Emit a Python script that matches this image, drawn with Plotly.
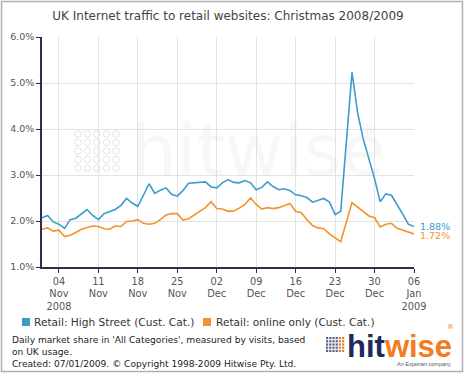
import plotly.graph_objects as go
import pandas as pd

# ---- data ----
all_days = pd.date_range("2008-11-01", "2009-01-06", freq="D")
dates = [d.strftime("%Y-%m-%d") for d in all_days if d.strftime("%m-%d") != "12-25"]

high_street = [2.07, 2.12, 1.98, 1.93, 1.84, 2.03, 2.06, 2.16, 2.25, 2.12,
               2.03, 2.16, 2.21, 2.25, 2.34, 2.49, 2.39, 2.32, 2.56, 2.81,
               2.60, 2.67, 2.72, 2.58, 2.54, 2.66, 2.82, 2.83, 2.83, 2.85,
               2.74, 2.72, 2.83, 2.90, 2.84, 2.83, 2.88, 2.83, 2.68, 2.73,
               2.85, 2.75, 2.68, 2.70, 2.66, 2.57, 2.55, 2.51, 2.41, 2.45,
               2.49, 2.41, 2.14, 2.21,
               5.23, 4.35, 3.78, 3.35, 2.92, 2.42, 2.59, 2.56, 2.37, 2.15,
               1.93, 1.88]

online_only = [1.82, 1.85, 1.78, 1.80, 1.66, 1.69, 1.75, 1.82, 1.86, 1.89,
               1.88, 1.83, 1.82, 1.89, 1.88, 1.99, 2.00, 2.03, 1.95, 1.93,
               1.95, 2.03, 2.13, 2.16, 2.16, 2.02, 2.05, 2.13, 2.22, 2.29,
               2.42, 2.27, 2.26, 2.21, 2.22, 2.28, 2.36, 2.50, 2.36, 2.26,
               2.29, 2.27, 2.29, 2.33, 2.38, 2.21, 2.18, 2.03, 1.90, 1.85,
               1.83, 1.72, 1.63, 1.55,
               2.40, 2.30, 2.19, 2.11, 2.07, 1.87, 1.93, 1.95, 1.84, 1.80,
               1.76, 1.72]

series_names = ["Retail: High Street (Cust. Cat.)", "Retail: online only (Cust. Cat.)"]

tick_dates = ["2008-11-04", "2008-11-11", "2008-11-18", "2008-11-25", "2008-12-02",
              "2008-12-09", "2008-12-16", "2008-12-23", "2008-12-30", "2009-01-06"]
tick_labels = ["04<br>Nov<br>2008", "11<br>Nov", "18<br>Nov", "25<br>Nov", "02<br>Dec",
               "09<br>Dec", "16<br>Dec", "23<br>Dec", "30<br>Dec", "06<br>Jan<br>2009"]

BLUE = "#3c9ccb"
ORANGE = "#f5922a"
NAVY = "#1d2a5b"
FONT = "DejaVu Sans"

# pixel helpers (plot area: x 42..414, y 37..267)
L, R, T, B = 42, 414, 37, 267
def px(x):
    return (x - L) / (R - L)
def py(y):
    return (B - y) / (B - T)

fig = go.Figure()
fig.add_trace(go.Scatter(x=dates, y=high_street, mode="lines", name=series_names[0],
                         line=dict(color=BLUE, width=1.6), showlegend=False))
fig.add_trace(go.Scatter(x=dates, y=online_only, mode="lines", name=series_names[1],
                         line=dict(color=ORANGE, width=1.6), showlegend=False))

shapes = []
# outer border
shapes.append(dict(type="rect", xref="paper", yref="paper",
                   x0=px(1.5), x1=px(462.5), y0=py(1.5), y1=py(371.5),
                   line=dict(color="#b0b0b0", width=1.5), fillcolor="rgba(0,0,0,0)", layer="below"))
# watermark dots (5x5 circles)
for i in range(5):
    for j in range(5):
        cx = 78 + i * 9.5
        cy = 134 + j * 8.5
        shapes.append(dict(type="circle", xref="paper", yref="paper",
                           x0=px(cx - 3.3), x1=px(cx + 3.3), y0=py(cy + 3.3), y1=py(cy - 3.3),
                           line=dict(color="#e4e4e4", width=1), layer="below"))
# logo icon (grid of small squares)
for i in range(6):
    for j in range(5):
        sx = 326 + i * 3.2
        sy = 337 + j * 3.2
        col = "#5a6285" if i < 4 else "#d9823a"
        shapes.append(dict(type="rect", xref="paper", yref="paper",
                           x0=px(sx), x1=px(sx + 2.2), y0=py(sy + 2.2), y1=py(sy),
                           line=dict(width=0), fillcolor=col))
# legend squares
for sx, col in [(22, BLUE), (203, ORANGE)]:
    shapes.append(dict(type="rect", xref="paper", yref="paper",
                       x0=px(sx), x1=px(sx + 8), y0=py(326), y1=py(318),
                       line=dict(width=0), fillcolor=col))

annotations = [
    dict(text="hitwise", xref="paper", yref="paper", x=px(258), y=py(150),
         showarrow=False, font=dict(family=FONT, size=72, color="rgba(200,200,200,0.15)")),
    dict(text="®", xref="paper", yref="paper", x=px(378), y=py(130),
         showarrow=False, font=dict(family=FONT, size=14, color="rgba(200,200,200,0.3)")),
    dict(text="1.88%", xref="paper", yref="y", x=px(418), y=high_street[-1],
         xanchor="left", yanchor="middle", showarrow=False,
         font=dict(family=FONT, size=9.5, color=BLUE)),
    dict(text="1.72%", xref="paper", yref="y", x=px(418), y=online_only[-1] - 0.03,
         xanchor="left", yanchor="middle", showarrow=False,
         font=dict(family=FONT, size=9.5, color=ORANGE)),
    dict(text=series_names[0], xref="paper", yref="paper", x=px(32), y=py(322),
         xanchor="left", yanchor="middle", showarrow=False,
         font=dict(family=FONT, size=10.6, color="#333333")),
    dict(text=series_names[1], xref="paper", yref="paper", x=px(214), y=py(322),
         xanchor="left", yanchor="middle", showarrow=False,
         font=dict(family=FONT, size=10.6, color="#333333")),
    dict(text="Daily market share in 'All Categories', measured by visits, based<br>"
              "on UK usage.<br>Created: 07/01/2009. © Copyright 1998-2009 Hitwise Pty. Ltd.",
         xref="paper", yref="paper", x=px(10), y=py(333), xanchor="left", yanchor="top",
         align="left", showarrow=False,
         font=dict(family=FONT, size=9.1, color="#222222")),
    dict(text="<b><span style='color:%s'>hit</span><span style='color:#f47b20'>wise</span></b>" % NAVY,
         xref="paper", yref="paper", x=px(345), y=py(346), xanchor="left", yanchor="middle",
         showarrow=False, font=dict(family="Liberation Sans", size=31)),
    dict(text="®", xref="paper", yref="paper", x=px(456), y=py(333),
         showarrow=False, font=dict(family=FONT, size=7, color="#f47b20")),
    dict(text="An Experian company", xref="paper", yref="paper", x=px(453), y=py(364),
         xanchor="right", yanchor="middle", showarrow=False,
         font=dict(family="Liberation Sans", size=5.5, color="#555555")),
]

fig.update_layout(
    width=464, height=373,
    margin=dict(l=L, r=464 - R, t=T, b=373 - B, autoexpand=False),
    paper_bgcolor="white", plot_bgcolor="white",
    title=dict(text="UK Internet traffic to retail websites: Christmas 2008/2009",
               x=0.5, xref="paper", xanchor="center", y=1 - 16 / 373, yanchor="middle",
               font=dict(family=FONT, size=12, color="#444444")),
    font=dict(family=FONT, size=9.5, color="#555555"),
    xaxis=dict(range=["2008-11-01", "2009-01-06"], tickmode="array",
               tickvals=tick_dates, ticktext=tick_labels, automargin=False,
               showgrid=True, gridcolor="#e3e3e3", gridwidth=1,
               showline=True, linecolor="#2d2d4d", linewidth=1.5,
               ticks="outside", ticklen=4, tickcolor="#2d2d4d",
               tickfont=dict(family=FONT, size=9.8, color="#555555"), zeroline=False),
    yaxis=dict(range=[1, 6], tickmode="array", tickvals=[1, 2, 3, 4, 5, 6],
               ticktext=["1.0%", "2.0%", "3.0%", "4.0%", "5.0%", "6.0%"], automargin=False,
               showgrid=True, gridcolor="#e3e3e3", gridwidth=1,
               showline=True, linecolor="#2d2d4d", linewidth=1.5,
               ticks="outside", ticklen=4, tickcolor="#2d2d4d",
               tickfont=dict(family=FONT, size=9.5, color="#555555"), zeroline=False),
    shapes=shapes,
    annotations=annotations,
    showlegend=False,
)

fig.write_html("out.html", config={"displayModeBar": False},
               post_script="document.body.style.margin='0';document.body.style.overflow='hidden';")
